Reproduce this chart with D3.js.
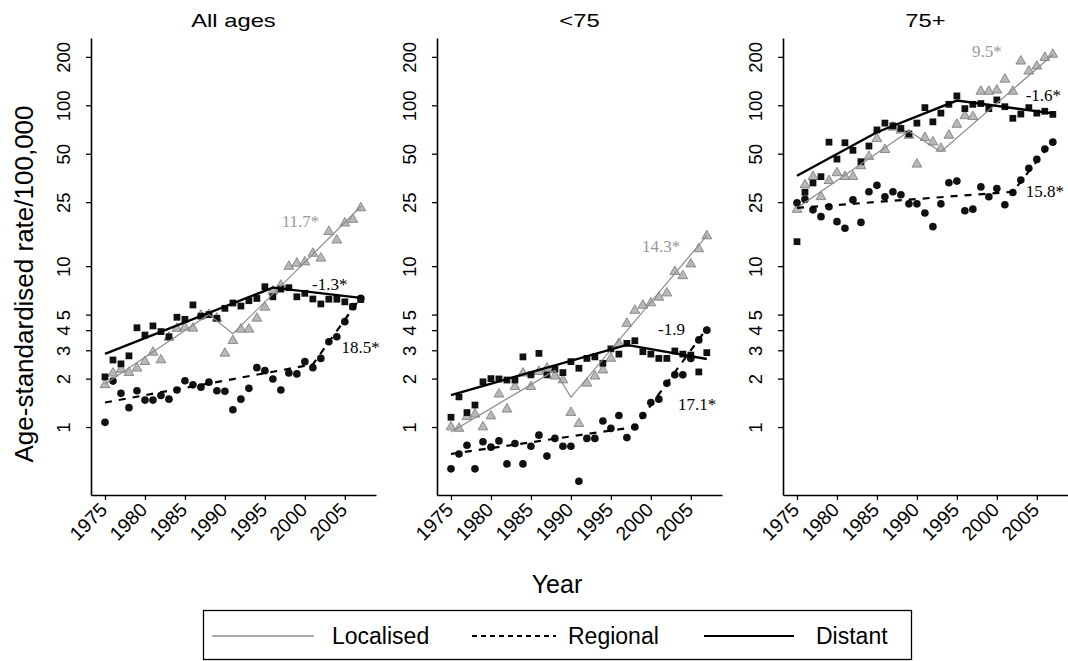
<!DOCTYPE html>
<html>
<head>
<meta charset="utf-8">
<script src="https://cdn.jsdelivr.net/npm/d3@7"></script>
<style>
  body { margin: 0; background: #fff; }
  svg { display: block; font-family: "Liberation Sans", Arial, sans-serif; }
</style>
</head>
<body>
<div id="chart"></div>
<script>
// years on the x axis
var years = [1975, 1976, 1977, 1978, 1979, 1980, 1981, 1982, 1983, 1984, 1985,
  1986, 1987, 1988, 1989, 1990, 1991, 1992, 1993, 1994, 1995, 1996, 1997,
  1998, 1999, 2000, 2001, 2002, 2003, 2004, 2005, 2006, 2007];

var xTicks = [1975, 1980, 1985, 1990, 1995, 2000, 2005];
var yTicks = [1, 2, 3, 4, 5, 10, 25, 50, 100, 200];

// All ages
var allLocalised = [1.83, 2.16, 2.28, 2.18, 2.32, 2.55, 2.91, 2.61, 3.61, 4.1, 4.17,
  4.11, 4.94, 5.0, 4.74, 2.87, 3.44, 4.05, 4.05, 4.74, 5.55, 7.0, 7.6,
  9.95, 10.4, 10.6, 12.0, 11.2, 16.4, 14.5, 18.5, 19.5, 23];
var allRegional = [1.07, 1.93, 1.62, 1.32, 1.68, 1.47, 1.47, 1.57, 1.49, 1.70, 1.94,
  1.83, 1.77, 1.90, 1.68, 1.67, 1.28, 1.49, 1.74, 2.34, 2.24, 1.99, 1.70,
  2.17, 2.14, 2.55, 2.34, 2.67, 3.39, 3.64, 4.52, 5.6, 6.3];
var allDistant = [2.05, 2.61, 2.47, 2.77, 4.14, 3.73, 4.25, 3.92, 3.64, 4.81, 4.67,
  5.74, 4.89, 5.0, 4.74, 5.47, 5.9, 5.65, 6.1, 6.3, 7.45, 6.45, 7.2,
  7.35, 6.45, 6.78, 6.25, 5.82, 6.23, 6.23, 6.0, 5.6, 6.2];

// <75
var youngLocalised = [1.0, 0.98, 1.16, 1.2, 1.0, 1.17, 1.6, 1.29, 1.78, 2.16, 1.78,
  2.21, 2.32, 2.07, 1.96, 1.23, 1.05, 1.87, 2.07, 2.26, 2.67, 3.3, 4.4,
  5.3, 5.7, 5.9, 6.4, 6.8, 9.25, 8.7, 10.3, 12.8, 15.4];
var youngRegional = [0.55, 0.68, 0.77, 0.55, 0.81, 0.75, 0.82, 0.59, 0.79, 0.59, 0.76,
  0.89, 0.66, 0.85, 0.76, 0.76, 0.46, 0.85, 0.85, 1.09, 0.98, 1.18, 0.86,
  1.0, 1.18, 1.42, 1.49, 1.87, 2.11, 2.11, 2.67, 3.48, 4.0];
var youngDistant = [1.15, 1.54, 1.23, 1.37, 1.91, 2.0, 1.99, 1.96, 1.96, 2.73, 2.11,
  2.87, 2.11, 2.29, 2.18, 2.55, 2.32, 2.67, 2.73, 2.49, 3.06, 2.84, 3.31,
  3.44, 2.94, 2.84, 2.67, 2.67, 2.97, 2.84, 2.8, 2.2, 2.9];

// 75+
var oldLocalised = [22.5, 32, 36, 27, 34, 38, 36, 36, 42, 48, 62,
  53, 73, 70, 65, 43, 63, 59, 54, 65, 76, 86, 85,
  122, 122, 124, 145, 122, 188, 163, 175, 198, 207];
var oldRegional = [24.8, 26, 22.4, 20.3, 23.4, 18.9, 17.2, 25.8, 18.7, 29.0, 31.8,
  27, 29.0, 27.8, 24.4, 24.4, 21.4, 17.6, 24.4, 33.0, 33.8, 22.1, 22.6,
  31.1, 27.0, 30.4, 24.1, 28.7, 34.3, 40.6, 46.1, 53.5, 59];
var oldDistant = [14.2, 28.8, 32.9, 36.0, 59, 46.3, 58.5, 52.5, 44.6, 55.8, 70.3,
  77.5, 74.5, 71.8, 66.3, 77.5, 96.7, 78.9, 89.4, 101.4, 114.4, 95.3, 101.4,
  102.5, 95.3, 108, 98, 83, 88.2, 96.7, 89.4, 91.8, 87.8];

// joinpoint fits [year, rate]
var allLocalisedFit = [[1975, 1.85], [1988, 5.0], [1991, 3.8], [2007, 23.5]];
var allRegionalFit = [[1975, 1.42], [2001, 2.45], [2007, 6.4]];
var allDistantFit = [[1975, 2.85], [1996, 7.35], [2007, 6.35]];
var youngLocalisedFit = [[1975, 0.93], [1988, 2.25], [1990, 1.53], [2007, 15.5]];
var youngRegionalFit = [[1975, 0.68], [1998, 1.0], [2007, 4.1]];
var youngDistantFit = [[1975, 1.58], [1997, 3.24], [2007, 2.65]];
var oldLocalisedFit = [[1975, 23], [1989, 69], [1993, 51.5], [2007, 206]];
var oldRegionalFit = [[1975, 23], [2002, 29], [2007, 60]];
var oldDistantFit = [[1975, 36.5], [1985, 68], [1995, 107], [2007, 89]];

// annual percent change labels [year, rate, text]
var allNotes = [[1997.1, 17.5, "11.7*"], [2000.9, 7.1, "-1.3*"], [2004.6, 2.89, "18.5*"]];
var youngNotes = [[1998.9, 12.3, "14.3*"], [2000.9, 3.73, "-1.9"], [2003.4, 1.28, "17.1*"]];
var oldNotes = [[1996.9, 200, "9.5*"], [2003.6, 106, "-1.6*"], [2003.6, 26.9, "15.8*"]];

var titles = ["All ages", "<75", "75+"];

var panels = [
  { title: titles[0], left: 91, loc: allLocalised, reg: allRegional, dist: allDistant,
    locFit: allLocalisedFit, regFit: allRegionalFit, distFit: allDistantFit, notes: allNotes },
  { title: titles[1], left: 437, loc: youngLocalised, reg: youngRegional, dist: youngDistant,
    locFit: youngLocalisedFit, regFit: youngRegionalFit, distFit: youngDistantFit, notes: youngNotes },
  { title: titles[2], left: 783, loc: oldLocalised, reg: oldRegional, dist: oldDistant,
    locFit: oldLocalisedFit, regFit: oldRegionalFit, distFit: oldDistantFit, notes: oldNotes }
];

var svg = d3.select("#chart").append("svg")
  .attr("width", 1068)
  .attr("height", 661);

var plotTop = 38, plotBottom = 495, plotWidth = 285;

var x = d3.scaleLinear().domain([1973.25, 2008.9]).range([0, plotWidth]);
var y = d3.scaleLog().domain([0.378, 262]).range([plotBottom, plotTop]);

var line = d3.line()
  .x(function (d) { return x(d[0]); })
  .y(function (d) { return y(d[1]); });

var gray = "#8c8c8c";

panels.forEach(function (p) {
  var g = svg.append("g").attr("transform", "translate(" + p.left + ",0)");

  // y axis
  var ya = g.append("g")
    .call(d3.axisLeft(y).tickValues(yTicks).tickFormat(d3.format("d")).tickSize(5).tickSizeOuter(0))
    .attr("font-family", null)
    .attr("font-size", 18.5);
  ya.select(".domain").attr("stroke-width", 1.6);
  ya.selectAll(".tick line").attr("stroke-width", 1.3);
  ya.selectAll(".tick text")
    .attr("transform", "rotate(-90)")
    .attr("x", 0)
    .attr("y", -21)
    .attr("dy", 0)
    .style("text-anchor", "middle");

  // x axis
  var xa = g.append("g")
    .attr("transform", "translate(0," + plotBottom + ")")
    .call(d3.axisBottom(x).tickValues(xTicks).tickFormat(d3.format("d")).tickSize(5).tickSizeOuter(0))
    .attr("font-family", null)
    .attr("font-size", 19.5);
  xa.select(".domain").attr("stroke-width", 1.6);
  xa.selectAll(".tick line").attr("stroke-width", 1.3);
  xa.selectAll(".tick text")
    .attr("x", 0)
    .attr("y", 0)
    .attr("dy", 0)
    .attr("transform", "translate(3,16) rotate(-45)")
    .style("text-anchor", "end");

  // panel title
  g.append("text")
    .attr("transform", "translate(" + plotWidth / 2 + ",27) scale(1.25,1)")
    .attr("text-anchor", "middle")
    .attr("font-size", 19)
    .text(p.title);

  // points
  g.selectAll(".tri")
    .data(p.loc)
    .enter()
    .append("path")
    .attr("d", d3.symbol(d3.symbolTriangle).size(42))
    .attr("transform", function (d, i) { return "translate(" + x(years[i]) + "," + y(d) + ")"; })
    .attr("fill", "#b8b8b8")
    .attr("stroke", "#777")
    .attr("stroke-width", 0.8);

  g.selectAll(".sq")
    .data(p.dist)
    .enter()
    .append("path")
    .attr("d", d3.symbol(d3.symbolSquare).size(46))
    .attr("transform", function (d, i) { return "translate(" + x(years[i]) + "," + y(d) + ")"; })
    .attr("fill", "#111");

  g.selectAll(".dot")
    .data(p.reg)
    .enter()
    .append("path")
    .attr("d", d3.symbol(d3.symbolCircle).size(46))
    .attr("transform", function (d, i) { return "translate(" + x(years[i]) + "," + y(d) + ")"; })
    .attr("fill", "#111");

  // fitted lines
  g.append("path").datum(p.locFit)
    .attr("d", line).attr("fill", "none").attr("stroke", gray).attr("stroke-width", 1.2);
  g.append("path").datum(p.regFit)
    .attr("d", line).attr("fill", "none").attr("stroke", "#000").attr("stroke-width", 2.2)
    .attr("stroke-dasharray", "7,7");
  g.append("path").datum(p.distFit)
    .attr("d", line).attr("fill", "none").attr("stroke", "#000").attr("stroke-width", 2.4);

  // APC labels
  g.selectAll(".note")
    .data(p.notes)
    .enter()
    .append("text")
    .attr("x", function (d) { return x(d[0]); })
    .attr("y", function (d) { return y(d[1]); })
    .attr("font-family", "'Liberation Serif', 'Times New Roman', serif")
    .attr("font-size", 17)
    .attr("fill", function (d, i) { return i === 0 ? "#999" : "#000"; })
    .text(function (d) { return d[2]; });
});

// axis titles
svg.append("text")
  .attr("transform", "translate(33,284) rotate(-90)")
  .attr("text-anchor", "middle")
  .attr("font-size", 26)
  .text("Age-standardised rate/100,000");

svg.append("text")
  .attr("x", 557)
  .attr("y", 593)
  .attr("text-anchor", "middle")
  .attr("font-size", 25)
  .text("Year");

// legend
var legend = svg.append("g");
legend.append("rect")
  .attr("x", 203.5).attr("y", 610.5)
  .attr("width", 708).attr("height", 49)
  .attr("fill", "none").attr("stroke", "#000").attr("stroke-width", 1.3);

var legendItems = [
  { label: "Localised", x1: 212, x2: 314, tx: 332, stroke: gray, width: 1.5, dash: null },
  { label: "Regional", x1: 472, x2: 556, tx: 568, stroke: "#000", width: 2, dash: "5,4" },
  { label: "Distant", x1: 704, x2: 794, tx: 816, stroke: "#000", width: 2, dash: null }
];
legendItems.forEach(function (d) {
  legend.append("line")
    .attr("x1", d.x1).attr("x2", d.x2)
    .attr("y1", 636).attr("y2", 636)
    .attr("stroke", d.stroke)
    .attr("stroke-width", d.width)
    .attr("stroke-dasharray", d.dash);
  legend.append("text")
    .attr("x", d.tx)
    .attr("y", 644)
    .attr("font-size", 23)
    .text(d.label);
});
</script>
</body>
</html>
